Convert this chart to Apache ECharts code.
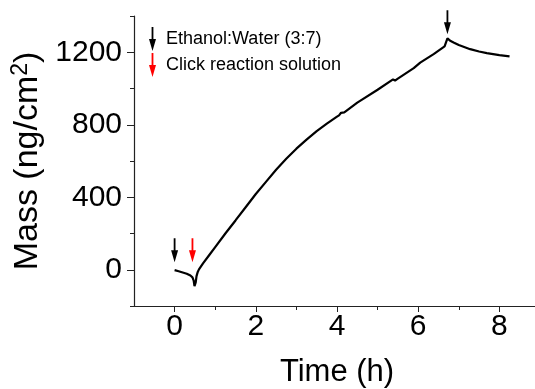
<!DOCTYPE html>
<html>
<head>
<meta charset="utf-8">
<script src="https://cdn.jsdelivr.net/npm/echarts@6/dist/echarts.min.js"></script>
<style>
  html, body { margin: 0; padding: 0; background: #fff; }
  #chart { width: 535px; height: 389px; }
</style>
</head>
<body>
<div id="chart"></div>
<script>
// time (h) and mass (ng/cm2)
var timeH = [0, 0.1, 0.2, 0.3, 0.39, 0.44, 0.47, 0.49, 0.5, 0.52, 0.54, 0.57, 0.6,
  0.7, 0.85, 1.0, 1.25, 1.5, 1.75, 2.0, 2.25, 2.5, 2.75, 3.0, 3.25, 3.5, 3.75, 4.0,
  4.05, 4.1, 4.14, 4.18, 4.5, 5.0, 5.38, 5.43, 5.48, 5.89, 6.05, 6.38, 6.65, 6.72,
  6.8, 6.87, 7.0, 7.28, 7.5, 7.69, 8.0, 8.25];
var mass = [-2, -8, -15, -22, -32, -42, -60, -90, -94, -70, -35, -12, 2,
  35, 80, 125, 200, 272, 345, 418, 485, 552, 612, 668, 718, 765, 806, 845,
  852, 866, 862, 868, 922, 993, 1050, 1044, 1052, 1112, 1143, 1190, 1232, 1276,
  1262, 1254, 1240, 1217, 1204, 1195, 1184, 1177];

// injection arrows: [time, mass at arrow middle]
var ethanolArrows = [[0, 107], [6.72, 1365]];
var clickArrows = [[0.44, 107]];

var xLabels = [0, 2, 4, 6, 8];
var xMinor = [1, 3, 5, 7];
var yLabels = [0, 400, 800, 1200];
var yMinor = [-200, 200, 600, 1000, 1400];

var FONT = 'Liberation Sans';
var ARROW = 'path://M2.6,0 L4.4,0 L4.4,12 L7,12 L3.5,24 L0,12 L2.6,12 Z';

var line = [];
for (var i = 0; i < timeH.length; i++) line.push([timeH[i], mass[i]]);

var axisLine = { show: true, onZero: false, lineStyle: { color: '#222', width: 1.2 } };
var plain = function (v) { return String(v); };

var chart = echarts.init(document.getElementById('chart'));
chart.setOption({
  animation: false,
  grid: { left: 134, top: 16, right: -5, bottom: 83, outerBoundsMode: 'none' },
  legend: {
    orient: 'vertical', left: 149, top: 27, padding: 0,
    itemWidth: 7, itemHeight: 24, itemGap: 2,
    selectedMode: false,
    data: [
      { name: 'Ethanol:Water (3:7)', icon: ARROW, itemStyle: { opacity: 1 } },
      { name: 'Click reaction solution', icon: ARROW, itemStyle: { opacity: 1 } }
    ],
    textStyle: { fontFamily: FONT, fontSize: 18, color: '#000', padding: [0, 0, 0, 5] }
  },
  xAxis: [{
    type: 'value', min: -1, max: 9, position: 'bottom',
    name: 'Time (h)', nameLocation: 'middle', nameGap: 51,
    nameTextStyle: { fontFamily: FONT, fontSize: 31, color: '#000' },
    axisLine: axisLine,
    splitLine: { show: false },
    axisTick: { customValues: xLabels, length: 6, lineStyle: { color: '#222' } },
    axisLabel: { customValues: xLabels, margin: 6, formatter: plain, fontFamily: FONT, fontSize: 30, color: '#000' }
  }, {
    type: 'value', min: -1, max: 9, position: 'bottom',
    axisLine: { show: false, onZero: false },
    splitLine: { show: false },
    axisTick: { customValues: xMinor, length: 4, lineStyle: { color: '#222' } },
    axisLabel: { show: false }
  }],
  yAxis: [{
    type: 'value', min: -200, max: 1400, position: 'left',
    name: 'Mass (ng/cm{sup|2})', nameLocation: 'middle', nameGap: 86,
    nameTextStyle: {
      fontFamily: FONT, fontSize: 34, color: '#000',
      rich: { sup: { fontFamily: FONT, fontSize: 23, color: '#000', verticalAlign: 'top', padding: [0, 0, 13, 0] } }
    },
    axisLine: axisLine,
    splitLine: { show: false },
    axisTick: { customValues: yLabels, length: 7, lineStyle: { color: '#222' } },
    axisLabel: { customValues: yLabels, margin: 12, formatter: plain, fontFamily: FONT, fontSize: 30, color: '#000' }
  }, {
    type: 'value', min: -200, max: 1400, position: 'left',
    axisLine: { show: false, onZero: false },
    splitLine: { show: false },
    axisTick: { show: true, customValues: yMinor, length: 4, lineStyle: { color: '#222' } },
    axisLabel: { show: false }
  }],
  series: [{
    type: 'line', data: line, showSymbol: false,
    lineStyle: { color: '#000', width: 2.2 }
  }, {
    name: 'Ethanol:Water (3:7)', type: 'scatter', data: ethanolArrows,
    symbol: ARROW, symbolSize: [7, 24], itemStyle: { color: '#000', opacity: 1 }
  }, {
    name: 'Click reaction solution', type: 'scatter', data: clickArrows,
    symbol: ARROW, symbolSize: [7, 24], itemStyle: { color: '#f00', opacity: 1 }
  }]
});
</script>
</body>
</html>
